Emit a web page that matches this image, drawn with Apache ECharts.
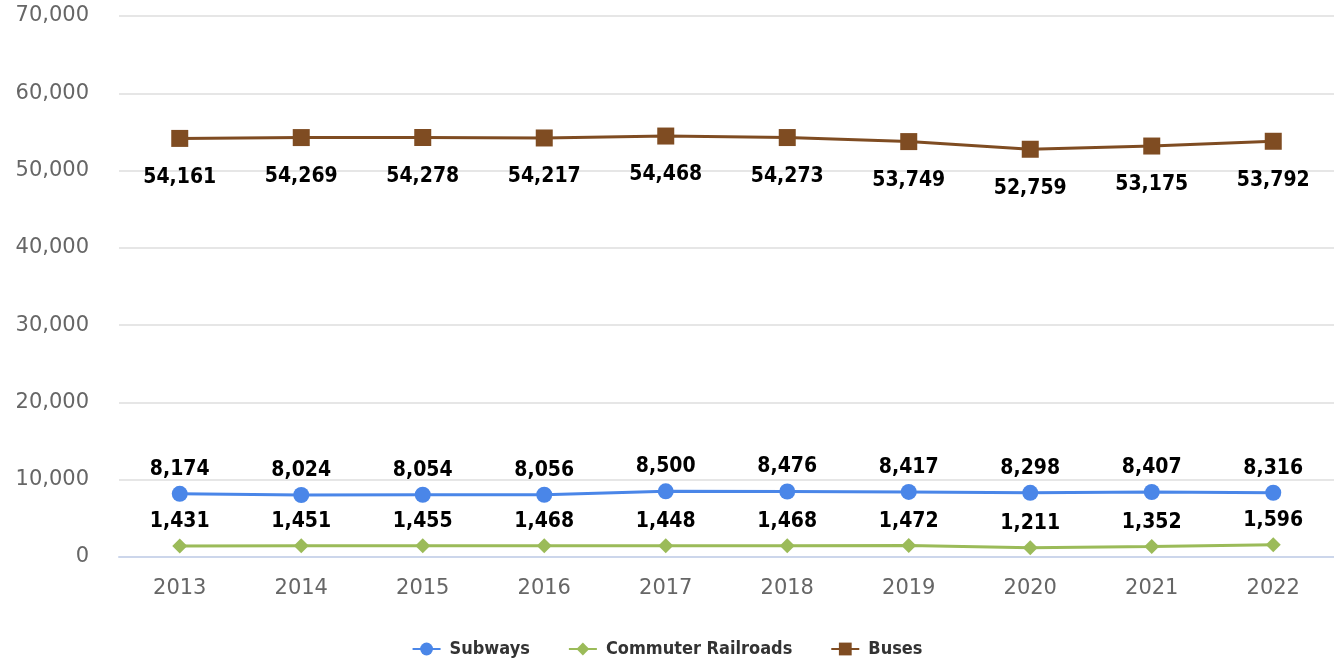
<!DOCTYPE html>
<html>
<head>
<meta charset="utf-8">
<script src="https://cdn.jsdelivr.net/npm/echarts@6/dist/echarts.min.js"></script>
<style>html,body{margin:0;padding:0;background:#fff}#c{width:1334px;height:666px}</style>
</head>
<body>
<div id="c"></div>
<script>
const years = ['2013','2014','2015','2016','2017','2018','2019','2020','2021','2022'];
const subways = [8174, 8024, 8054, 8056, 8500, 8476, 8417, 8298, 8407, 8316];
const railroads = [1431, 1451, 1455, 1468, 1448, 1468, 1472, 1211, 1352, 1596];
const buses = [54161, 54269, 54278, 54217, 54468, 54273, 53749, 52759, 53175, 53792];
const yTicks = [0, 10000, 20000, 30000, 40000, 50000, 60000, 70000];

const fmt = v => v.toLocaleString('en-US');
const labelFont = 'DejaVu Sans Condensed';
const tickFont = 'DejaVu Sans';

function mkLabel(pos, dist) {
  return {
    show: true, position: pos, distance: dist,
    color: '#000', fontFamily: labelFont, fontWeight: 'bold', fontSize: 21,
    formatter: p => fmt(p.value)
  };
}

const chart = echarts.init(document.getElementById('c'), null, {renderer: 'canvas'});
chart.setOption({
  animation: false,
  backgroundColor: '#fff',
  grid: {left: 119, top: 16, bottom: 109, width: 1224, containLabel: false},
  legend: {
    bottom: 3, left: 'center',
    itemWidth: 28, itemHeight: 16, itemGap: 38,
    textStyle: {fontFamily: labelFont, fontWeight: 'bold', fontSize: 18, color: '#333', padding: [0, 0, 0, 4]},
    data: ['Subways', 'Commuter Railroads', 'Buses']
  },
  xAxis: {
    type: 'category', data: years, boundaryGap: true,
    axisLine: {lineStyle: {color: '#ccd6eb', width: 2}},
    axisTick: {show: false},
    axisLabel: {color: '#666', fontFamily: tickFont, fontSize: 21, margin: 21}
  },
  yAxis: {
    type: 'value', min: yTicks[0], max: yTicks[yTicks.length - 1], interval: 10000,
    axisLine: {show: false}, axisTick: {show: false},
    splitLine: {lineStyle: {color: '#e6e6e6', width: 2}},
    axisLabel: {color: '#666', fontFamily: tickFont, fontSize: 21, margin: 30, padding: [4, 0, 0, 0], formatter: v => fmt(v)}
  },
  series: [
    {
      name: 'Subways', type: 'line', data: subways,
      symbol: 'circle', symbolSize: 16,
      itemStyle: {color: '#4a86e8'}, lineStyle: {color: '#4a86e8', width: 3},
      label: mkLabel('top', 6)
    },
    {
      name: 'Commuter Railroads', type: 'line', data: railroads,
      symbol: 'diamond', symbolSize: 15,
      itemStyle: {color: '#9bbb59'}, lineStyle: {color: '#9bbb59', width: 3},
      label: mkLabel('top', 6)
    },
    {
      name: 'Buses', type: 'line', data: buses,
      symbol: 'rect', symbolSize: 17,
      itemStyle: {color: '#7f4c22'}, lineStyle: {color: '#7f4c22', width: 3},
      label: mkLabel('bottom', 20)
    }
  ]
});
</script>
</body>
</html>
